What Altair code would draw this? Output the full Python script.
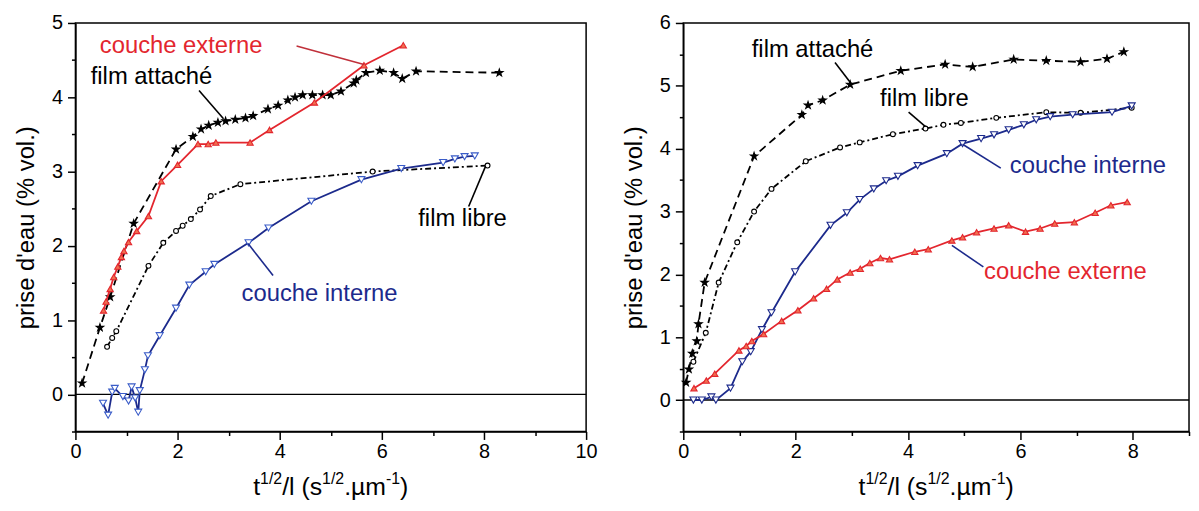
import altair as alt
import pandas as pd

# ---------------- data: left panel ----------------
L_att_x = [0.13, 0.48, 0.68, 1.14, 1.97, 2.3, 2.46, 2.61, 2.79, 2.94, 3.13, 3.33, 3.48, 3.77, 3.97, 4.16, 4.3, 4.45, 4.64, 4.84, 5.0, 5.2, 5.45, 5.5, 5.69, 5.96, 6.23, 6.4, 6.67, 8.3]
L_att_y = [0.15, 0.9, 1.31, 2.3, 3.3, 3.47, 3.57, 3.62, 3.66, 3.68, 3.7, 3.72, 3.75, 3.84, 3.89, 3.96, 4.0, 4.03, 4.03, 4.03, 4.03, 4.08, 4.19, 4.23, 4.33, 4.36, 4.33, 4.25, 4.35, 4.33]

L_ext_x = [0.55, 0.6, 0.68, 0.75, 0.83, 0.9, 0.95, 1.04, 1.2, 1.43, 1.68, 2.0, 2.4, 2.6, 2.75, 3.42, 3.8, 4.68, 5.65, 6.42]
L_ext_y = [1.13, 1.25, 1.42, 1.58, 1.72, 1.85, 1.93, 2.05, 2.2, 2.4, 2.87, 3.09, 3.37, 3.37, 3.39, 3.39, 3.56, 3.93, 4.43, 4.7]

L_lib_x = [0.62, 0.72, 0.8, 1.43, 1.72, 1.97, 2.1, 2.26, 2.44, 2.65, 3.23, 5.82, 8.07]
L_lib_y = [0.64, 0.76, 0.85, 1.73, 2.04, 2.2, 2.27, 2.36, 2.49, 2.67, 2.83, 3.0, 3.08]

L_int_x = [0.54, 0.64, 0.72, 0.77, 0.93, 1.04, 1.1, 1.17, 1.23, 1.26, 1.36, 1.42, 1.65, 1.97, 2.23, 2.55, 2.72, 3.39, 3.78, 4.62, 5.6, 6.38, 7.2, 7.43, 7.62, 7.82]
L_int_y = [-0.12, -0.28, 0.03, 0.08, -0.03, -0.09, 0.1, -0.05, -0.24, 0.05, 0.33, 0.52, 0.79, 1.16, 1.47, 1.65, 1.75, 2.04, 2.24, 2.6, 2.89, 3.04, 3.12, 3.17, 3.2, 3.21]

# ---------------- data: right panel ----------------
R_att_x = [0.05, 0.1, 0.16, 0.24, 0.27, 0.38, 1.26, 2.11, 2.22, 2.48, 2.97, 3.87, 4.66, 5.15, 5.88, 6.46, 7.07, 7.54, 7.84]
R_att_y = [0.28, 0.49, 0.74, 0.94, 1.21, 1.87, 3.88, 4.54, 4.69, 4.77, 5.02, 5.24, 5.34, 5.3, 5.42, 5.4, 5.38, 5.43, 5.54]

R_lib_x = [0.18, 0.4, 0.63, 0.96, 1.26, 1.57, 2.18, 2.79, 3.14, 3.73, 4.31, 4.63, 4.94, 5.57, 6.46, 7.07, 7.98]
R_lib_y = [0.61, 1.07, 1.87, 2.51, 3.0, 3.36, 3.8, 4.02, 4.1, 4.23, 4.32, 4.38, 4.41, 4.49, 4.58, 4.57, 4.65]

R_int_x = [0.18, 0.33, 0.5, 0.58, 0.84, 1.05, 1.2, 1.4, 1.57, 1.99, 2.62, 2.91, 3.14, 3.39, 3.61, 3.82, 4.17, 4.69, 4.97, 5.3, 5.53, 5.79, 6.06, 6.28, 6.53, 6.93, 7.63, 7.98]
R_int_y = [0.0, 0.0, 0.05, 0.0, 0.19, 0.61, 0.77, 1.12, 1.39, 2.04, 2.78, 2.98, 3.19, 3.36, 3.49, 3.56, 3.73, 3.92, 4.08, 4.16, 4.22, 4.3, 4.38, 4.46, 4.51, 4.54, 4.58, 4.68]

R_ext_x = [0.19, 0.41, 0.56, 0.99, 1.12, 1.22, 1.43, 1.75, 2.04, 2.32, 2.55, 2.74, 2.97, 3.15, 3.32, 3.51, 3.67, 4.12, 4.36, 4.78, 4.97, 5.22, 5.53, 5.79, 6.09, 6.35, 6.61, 6.96, 7.33, 7.61, 7.9]
R_ext_y = [0.19, 0.31, 0.42, 0.79, 0.86, 0.94, 1.05, 1.26, 1.43, 1.62, 1.77, 1.92, 2.03, 2.09, 2.18, 2.26, 2.24, 2.36, 2.4, 2.54, 2.59, 2.67, 2.73, 2.78, 2.68, 2.73, 2.81, 2.83, 2.98, 3.1, 3.15]

# ---------------- annotations ----------------
L_lab_text = ["couche externe", "film attaché", "film libre", "couche interne"]
L_lab_x = [2.07, 1.49, 7.58, 4.78]
L_lab_y = [4.69, 4.27, 2.36, 1.35]
L_lab_col = ["#e3262e", "black", "black", "#1c2a8c"]
L_lead_x = [4.33, 2.42, 7.7, 3.87]
L_lead_y = [4.69, 4.09, 2.53, 1.6]
L_lead_x2 = [5.65, 2.9, 8.03, 3.38]
L_lead_y2 = [4.44, 3.71, 3.07, 2.03]

R_lab_text = ["film attaché", "film libre", "couche interne", "couche externe"]
R_lab_x = [2.3, 4.29, 7.2, 6.8]
R_lab_y = [5.57, 4.79, 3.72, 2.03]
R_lab_col = ["black", "black", "#1c2a8c", "#e3262e"]
R_lead_x = [2.7, 4.01, 5.65, 5.34]
R_lead_y = [5.37, 4.58, 3.69, 2.12]
R_lead_x2 = [3.0, 4.31, 4.97, 4.78]
R_lead_y2 = [5.02, 4.35, 4.07, 2.46]

FONT = "Liberation Sans"
RED = "#e3262e"
BLUE = "#1c2a8c"
STAR = "M0,-1L0.2245,-0.309L0.951,-0.309L0.363,0.118L0.588,0.809L0,0.382L-0.588,0.809L-0.363,0.118L-0.951,-0.309L-0.2245,-0.309Z"

W_CH = {'t': .278, '1': .556, '/': .278, '2': .556, 'l': .222, ' ': .278, '(': .333,
        's': .5, '.': .278, 'µ': .576, 'm': .833, '-': .333, ')': .333}


def tw(s, fs):
    return sum(W_CH.get(c, .55) for c in s) * fs


def make_panel(xmax, ymax, width, height, series, labels, leads):
    xs = alt.Scale(domain=[0, xmax], nice=False, zero=False)
    ys = alt.Scale(domain=[-0.5, ymax], nice=False, zero=False)
    n_x = int(xmax)
    xvals = list(range(0, n_x + 1))
    yvals = [v / 2 for v in range(-1, int(ymax * 2) + 1)]
    xaxis = alt.Axis(values=xvals,
                     labelExpr="datum.value % 2 === 0 ? format(datum.value, 'd') : ''",
                     tickSize={"condition": {"test": "datum.value % 2 === 0", "value": 8}, "value": 4},
                     title=None, grid=False)
    yaxis = alt.Axis(values=yvals,
                     labelExpr="datum.value % 1 === 0 ? format(datum.value, 'd') : ''",
                     tickSize={"condition": {"test": "datum.value % 1 === 0", "value": 8}, "value": 4},
                     title="prise d'eau (% vol.)", grid=False, labelPadding=5, titlePadding=13)
    X = alt.X("x:Q", scale=xs, axis=xaxis)
    Y = alt.Y("y:Q", scale=ys, axis=yaxis)

    layers = [alt.Chart(pd.DataFrame({"y": [0]})).mark_rule(color="black", strokeWidth=1.5)
              .encode(y=alt.Y("y:Q", scale=ys, axis=yaxis))]
    for (x, y, col, dash, shape, size, fill, stroke) in series:
        df = pd.DataFrame({"x": x, "y": y, "i": list(range(len(x)))})
        lk = dict(color=col, strokeWidth=1.8)
        if dash:
            lk["strokeDash"] = dash
        layers.append(alt.Chart(df).mark_line(**lk).encode(x=X, y=Y, order="i:Q"))
        layers.append(alt.Chart(df).mark_point(shape=shape, size=size, filled=True, fill=fill,
                                               stroke=stroke, strokeWidth=1.1, opacity=1)
                      .encode(x=X, y=Y))
    ldf = pd.DataFrame(leads, columns=["x", "y", "x2", "y2", "c"])
    layers.append(alt.Chart(ldf).mark_rule(strokeWidth=1.6).encode(
        x=X, y=Y, x2="x2:Q", y2="y2:Q", color=alt.Color("c:N", scale=None)))
    tdf = pd.DataFrame(labels, columns=["x", "y", "t", "c"])
    layers.append(alt.Chart(tdf).mark_text(font=FONT, fontSize=24, align="center", baseline="middle")
                  .encode(x=X, y=Y, text="t:N", color=alt.Color("c:N", scale=None)))

    # x-axis title with superscripts
    segs = [("t", 25, 0), ("1/2", 16, -11), ("/l (s", 25, 0), ("1/2", 16, -11),
            (".µm", 25, 0), ("-1", 16, -11), (")", 25, 0)]
    total = sum(tw(s, f) for s, f, _ in segs)
    cur = width / 2 - total / 2
    rows = []
    for s, f, d in segs:
        rows.append({"t": s, "px": cur, "py": height + 64 + d, "fs": f})
        cur += tw(s, f)
    sdf = pd.DataFrame(rows)
    layers.append(alt.Chart(sdf).mark_text(font=FONT, align="left", baseline="alphabetic", color="black")
                  .encode(x=alt.X("px:Q", scale=None), y=alt.Y("py:Q", scale=None), text="t:N",
                          size=alt.Size("fs:Q", scale=None)))
    return alt.layer(*layers).properties(width=width, height=height)


left = make_panel(
    10, 5, 515, 412,
    [
        (L_att_x, L_att_y, "black", [8, 5], STAR, 60, "black", "black"),
        (L_lib_x, L_lib_y, "black", [6, 3, 2, 3], "circle", 24, "white", "black"),
        (L_int_x, L_int_y, BLUE, None, "triangle-down", 50, "white", "#3a5cc8"),
        (L_ext_x, L_ext_y, RED, None, "triangle-up", 40, "#f07050", RED),
    ],
    list(zip(L_lab_x, L_lab_y, L_lab_text, L_lab_col)),
    list(zip(L_lead_x, L_lead_y, L_lead_x2, L_lead_y2, ["#c0303a", "black", "black", BLUE])),
)

right = make_panel(
    9, 6, 510, 412,
    [
        (R_att_x, R_att_y, "black", [8, 5], STAR, 60, "black", "black"),
        (R_lib_x, R_lib_y, "black", [6, 3, 2, 3], "circle", 24, "white", "black"),
        (R_int_x, R_int_y, BLUE, None, "triangle-down", 50, "white", BLUE),
        (R_ext_x, R_ext_y, RED, None, "triangle-up", 40, "#f07050", RED),
    ],
    list(zip(R_lab_x, R_lab_y, R_lab_text, R_lab_col)),
    list(zip(R_lead_x, R_lead_y, R_lead_x2, R_lead_y2, ["black", "black", BLUE, BLUE])),
)

chart = alt.hconcat(left, right, spacing=24).configure_view(
    stroke="black", strokeWidth=1.5
).configure_axis(
    labelFont=FONT, titleFont=FONT, labelFontSize=20, titleFontSize=24,
    titleFontWeight="normal", labelColor="black", titleColor="black",
    domainColor="black", domainWidth=1.5, tickColor="black", tickWidth=1.5,
    labelFlush=False
).properties(padding={"left": 6, "top": 2, "right": 0, "bottom": 0})

chart.save("out.html", embed_options={"renderer": "svg", "actions": False})
